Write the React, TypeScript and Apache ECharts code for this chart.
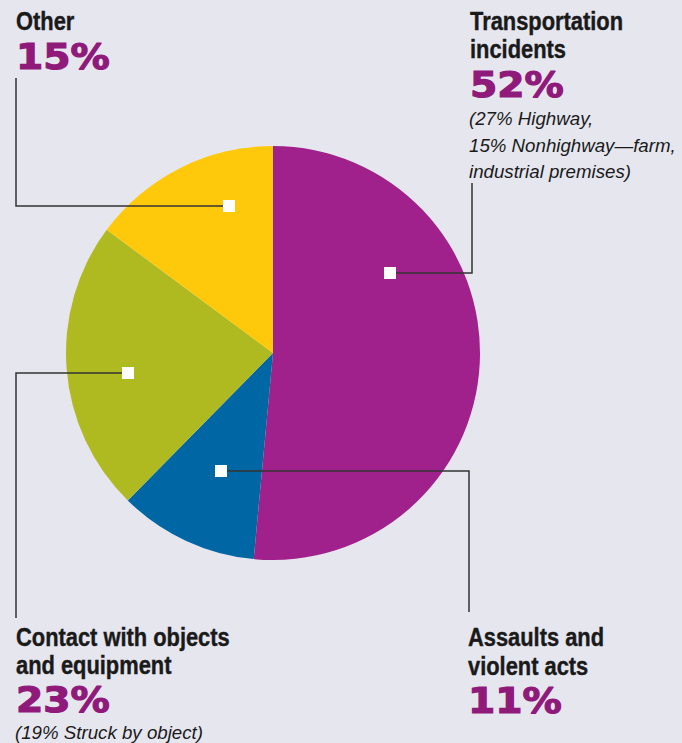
import React, { useEffect, useRef } from "react";
import * as echarts from "echarts";

const categories = [
  "Transportation incidents",
  "Assaults and violent acts",
  "Contact with objects and equipment",
  "Other",
];
const values = [52, 11, 23, 15];
const headings = [
  ["Transportation", "incidents"],
  ["Assaults and", "violent acts"],
  ["Contact with objects", "and equipment"],
  ["Other"],
];
const notes = [
  ["(27% Highway,", "15% Nonhighway\u2014farm,", "industrial premises)"],
  [],
  ["(19% Struck by object)"],
  [],
];
const colors = ["#a0218b", "#0067a4", "#afba20", "#ffc90b"];

// layout: heading x, heading first cap-center y, percent y, note y, marker, leader path
const layout = [
  { x: 470, hy: 21, py: 85.5, ny: 118.5, mk: [390, 273], path: [[390, 273], [472, 273], [472, 183]] },
  { x: 468, hy: 637.5, py: 701, ny: 0, mk: [221, 471], path: [[221, 471], [469, 471], [469, 612]] },
  { x: 16, hy: 637, py: 700.5, ny: 732.5, mk: [128, 373], path: [[128, 373], [16, 373], [16, 618]] },
  { x: 16, hy: 21, py: 57.5, ny: 0, mk: [229, 206], path: [[229, 206], [16, 206], [16, 78]] },
];
const HEAD_LH = 28.5;
const NOTE_LH = 26.5;

export default function App() {
  const ref = useRef<HTMLDivElement>(null);
  useEffect(() => {
    if (!ref.current) return;
    const chart = echarts.init(ref.current, undefined, { renderer: "svg" });
    const graphics: any[] = [];
    categories.forEach((c, i) => {
      const L = layout[i];
      graphics.push({
        type: "polyline",
        shape: { points: L.path },
        style: { stroke: "#333333", lineWidth: 1.5, fill: null },
        z: 10,
      });
      graphics.push({
        type: "rect",
        shape: { x: L.mk[0] - 6, y: L.mk[1] - 6, width: 12, height: 12 },
        style: { fill: "#ffffff" },
        z: 11,
      });
      headings[i].forEach((line, k) => {
        graphics.push({
          type: "text",
          x: L.x,
          y: L.hy + k * HEAD_LH,
          scaleX: 0.875,
          style: {
            text: line,
            font: "bold 25px 'Liberation Sans', Arial, sans-serif",
            fill: "#1a1a1a",
            stroke: "#1a1a1a",
            lineWidth: 0.4,
            verticalAlign: "middle",
            align: "left",
          },
          z: 12,
        });
      });
      graphics.push({
        type: "text",
        x: L.x,
        y: L.py,
        scaleX: 1.12,
        style: {
          text: values[i] + "%",
          font: "bold 35px 'DejaVu Sans', sans-serif",
          fill: "#8f1a7a",
          stroke: "#8f1a7a",
          lineWidth: 1.2,
          verticalAlign: "middle",
          align: "left",
        },
        z: 12,
      });
      notes[i].forEach((line, k) => {
        graphics.push({
          type: "text",
          x: L.x - 1,
          y: L.ny + k * NOTE_LH,
          style: {
            text: line,
            font: "italic 18.7px 'Liberation Sans', Arial, sans-serif",
            fill: "#1a1a1a",
            verticalAlign: "middle",
            align: "left",
          },
          z: 12,
        });
      });
    });
    chart.setOption({
      animation: false,
      backgroundColor: "#e6e6ef",
      series: [
        {
          type: "pie",
          center: [273, 353],
          radius: 207,
          startAngle: 90,
          clockwise: true,
          silent: true,
          label: { show: false },
          labelLine: { show: false },
          data: categories.map((c, i) => ({
            name: c,
            value: values[i],
            itemStyle: { color: colors[i] },
          })),
        },
      ],
      graphic: graphics,
    });
    return () => chart.dispose();
  }, []);
  return (
    <div
      ref={ref}
      style={{ position: "absolute", left: 0, top: 0, width: 682, height: 743 }}
    />
  );
}
